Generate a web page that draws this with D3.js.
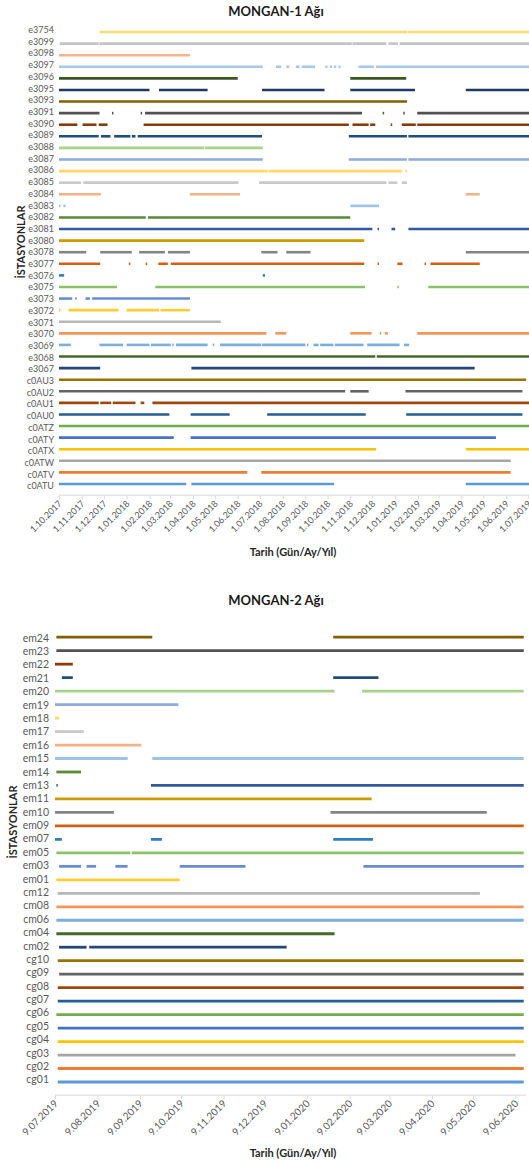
<!DOCTYPE html>
<html>
<head>
<meta charset="utf-8">
<script src="https://cdn.jsdelivr.net/npm/d3@7"></script>
<style>
  html, body { margin: 0; padding: 0; background: #fff; }
  svg { display: block; font-family: Lato, "Open Sans", sans-serif; }
</style>
</head>
<body>
<svg id="chart" width="529" height="1163"></svg>
<script>
// ---------- MONGAN-1 network: stations (top to bottom) and observation periods ----------
const mongan1Stations = ["e3754","e3099","e3098","e3097","e3096","e3095","e3093","e3091","e3090","e3089",
  "e3088","e3087","e3086","e3085","e3084","e3083","e3082","e3081","e3080","e3078",
  "e3077","e3076","e3075","e3073","e3072","e3071","e3070","e3069","e3068","e3067",
  "c0AU3","c0AU2","c0AU1","c0AU0","c0ATZ","c0ATY","c0ATX","c0ATW","c0ATV","c0ATU"];

const mongan1Periods = [
  [["2017-11-25","2019-01-17"],["2019-01-18","2019-07-02"]],
  [["2017-10-02","2017-11-24"],["2017-11-25","2018-11-03"],["2018-11-04","2018-12-20"],["2018-12-23","2019-01-05"],["2019-01-07","2019-07-02"]],
  [["2017-10-01","2018-03-28"]],
  [["2017-10-01","2018-07-05"],["2018-07-23","2018-07-30"],["2018-08-06","2018-08-10"],["2018-08-19","2018-08-24"],["2018-08-27","2018-09-14"],["2018-09-28","2018-10-01"],["2018-10-04","2018-10-07"],["2018-10-10","2018-10-13"],["2018-10-16","2018-10-19"],["2018-11-12","2018-12-03"],["2018-12-06","2019-07-02"]],
  [["2017-10-01","2018-06-01"],["2018-11-01","2019-01-16"]],
  [["2017-10-01","2018-02-01"],["2018-02-14","2018-04-21"],["2018-07-04","2018-09-27"],["2018-11-01","2019-01-28"],["2019-04-07","2019-07-02"]],
  [["2017-10-01","2019-01-17"]],
  [["2017-10-01","2017-11-25"],["2017-12-12","2017-12-14"],["2018-01-20","2018-01-22"],["2018-01-26","2018-11-17"],["2018-12-15","2018-12-17"],["2019-01-12","2019-01-14"],["2019-01-31","2019-07-02"]],
  [["2017-10-01","2017-10-26"],["2017-11-02","2017-11-21"],["2017-11-24","2017-12-06"],["2018-01-24","2018-10-30"],["2018-11-04","2018-11-26"],["2018-11-28","2018-12-05"],["2018-12-26","2018-12-28"],["2019-01-10","2019-01-29"],["2019-01-31","2019-07-02"]],
  [["2017-10-01","2017-11-24"],["2017-11-27","2017-12-10"],["2017-12-15","2018-01-06"],["2018-01-08","2018-01-13"],["2018-01-16","2018-07-04"],["2018-10-30","2019-01-17"],["2019-01-19","2019-07-02"]],
  [["2017-10-01","2018-04-16"],["2018-04-17","2018-07-05"]],
  [["2017-10-01","2018-07-05"],["2018-10-30","2019-01-17"],["2019-01-19","2019-07-02"]],
  [["2017-10-01","2018-07-12"],["2018-07-13","2019-01-10"],["2019-01-15","2019-01-17"]],
  [["2017-10-01","2017-10-31"],["2017-11-03","2018-06-02"],["2018-06-30","2018-12-20"],["2018-12-23","2019-01-04"],["2019-01-10","2019-01-17"]],
  [["2017-10-01","2017-11-27"],["2018-03-28","2018-06-04"],["2019-04-07","2019-04-26"]],
  [["2017-10-01","2017-10-03"],["2017-10-07","2017-10-10"],["2018-11-01","2018-12-10"]],
  [["2017-10-01","2018-01-27"],["2018-01-30","2018-11-01"]],
  [["2017-10-01","2018-12-01"],["2018-12-08","2018-12-10"],["2018-12-27","2019-01-01"],["2019-01-19","2019-07-02"]],
  [["2017-10-01","2018-11-20"]],
  [["2017-10-01","2017-11-07"],["2017-11-26","2018-01-08"],["2018-01-18","2018-02-22"],["2018-02-26","2018-03-28"],["2018-07-03","2018-07-25"],["2018-08-06","2018-09-08"],["2019-04-07","2019-07-02"]],
  [["2017-10-01","2017-11-26"],["2018-01-04","2018-01-06"],["2018-01-27","2018-01-29"],["2018-02-13","2018-02-26"],["2018-03-02","2018-11-20"],["2018-12-08","2018-12-10"],["2019-01-04","2019-01-11"],["2019-02-10","2019-02-12"],["2019-02-18","2019-04-26"]],
  [["2017-10-01","2017-10-08"],["2018-07-05","2018-07-08"]],
  [["2017-10-01","2017-12-19"],["2018-02-09","2018-11-21"],["2019-01-04","2019-01-06"],["2019-02-15","2019-07-02"]],
  [["2017-10-01","2017-10-19"],["2017-10-23","2017-10-25"],["2017-11-06","2017-11-12"],["2017-11-15","2018-03-28"]],
  [["2017-10-01","2017-10-03"],["2017-10-14","2017-12-21"],["2018-01-01","2018-02-14"],["2018-02-16","2018-03-28"]],
  [["2017-10-01","2018-05-09"]],
  [["2017-10-01","2018-07-10"],["2018-07-22","2018-08-06"],["2018-11-01","2018-11-30"],["2018-12-11","2018-12-13"],["2018-12-18","2018-12-22"],["2019-01-31","2019-07-02"]],
  [["2017-10-01","2017-10-17"],["2017-11-25","2017-12-27"],["2018-01-01","2018-02-01"],["2018-02-03","2018-03-02"],["2018-03-04","2018-03-06"],["2018-03-09","2018-04-21"],["2018-04-28","2018-04-30"],["2018-05-08","2018-07-03"],["2018-07-04","2018-09-01"],["2018-09-03","2018-09-05"],["2018-09-12","2018-09-19"],["2018-09-21","2018-10-09"],["2018-10-11","2018-11-19"],["2018-11-24","2019-01-07"],["2019-01-13","2019-01-20"]],
  [["2017-10-01","2018-12-05"],["2018-12-07","2019-07-02"]],
  [["2017-10-01","2017-11-26"],["2018-03-30","2019-04-19"]],
  [["2017-10-01","2019-06-28"]],
  [["2017-10-01","2018-10-25"],["2018-11-01","2018-11-26"],["2019-01-15","2019-06-23"]],
  [["2017-10-01","2017-11-24"],["2017-11-26","2017-12-11"],["2017-12-13","2018-01-13"],["2018-01-20","2018-01-25"],["2018-02-05","2019-07-02"]],
  [["2017-10-01","2018-02-28"],["2018-03-29","2018-05-21"],["2018-07-11","2018-11-22"],["2019-01-16","2019-06-23"]],
  [["2017-10-01","2019-07-02"]],
  [["2017-10-01","2018-03-06"],["2018-03-29","2019-05-18"]],
  [["2017-10-01","2018-12-06"],["2019-04-07","2019-07-02"]],
  [["2017-10-01","2019-06-07"]],
  [["2017-10-01","2018-06-14"],["2018-07-03","2019-06-07"]],
  [["2017-10-01","2018-03-23"],["2018-03-30","2018-10-10"],["2019-04-07","2019-07-02"]]
];

const mongan1Ticks = ["2017-10-01","2017-11-01","2017-12-01","2018-01-01","2018-02-01","2018-03-01","2018-04-01",
  "2018-05-01","2018-06-01","2018-07-01","2018-08-01","2018-09-01","2018-10-01","2018-11-01","2018-12-01",
  "2019-01-01","2019-02-01","2019-03-01","2019-04-01","2019-05-01","2019-06-01","2019-07-01"];

// ---------- MONGAN-2 network ----------
const mongan2Stations = ["em24","em23","em22","em21","em20","em19","em18","em17","em16","em15","em14","em13",
  "em11","em10","em09","em07","em05","em03","em01","cm12","cm08","cm06","cm04","cm02",
  "cg10","cg09","cg08","cg07","cg06","cg05","cg04","cg03","cg02","cg01"];

const mongan2Periods = [
  [["2019-07-10","2019-09-18"],["2020-01-28","2020-06-15"]],
  [["2019-07-10","2020-06-15"]],
  [["2019-07-09","2019-07-22"]],
  [["2019-07-14","2019-07-22"],["2020-01-28","2020-03-01"]],
  [["2019-07-09","2020-01-29"],["2020-02-18","2020-06-15"]],
  [["2019-07-09","2019-10-07"]],
  [["2019-07-09","2019-07-12"]],
  [["2019-07-09","2019-07-30"]],
  [["2019-07-09","2019-09-10"]],
  [["2019-07-09","2019-08-31"],["2019-09-18","2020-06-15"]],
  [["2019-07-10","2019-07-28"]],
  [["2019-07-10","2019-07-11"],["2019-09-17","2020-06-15"]],
  [["2019-07-09","2020-02-25"]],
  [["2019-07-09","2019-08-21"],["2020-01-26","2020-05-19"]],
  [["2019-07-09","2020-06-15"]],
  [["2019-07-09","2019-07-14"],["2019-09-17","2019-09-25"],["2020-01-28","2020-02-26"]],
  [["2019-07-10","2019-09-02"],["2019-09-03","2020-06-15"]],
  [["2019-07-12","2019-07-28"],["2019-08-01","2019-08-08"],["2019-08-22","2019-08-31"],["2019-10-08","2019-11-25"],["2020-02-19","2020-06-15"]],
  [["2019-07-10","2019-10-08"]],
  [["2019-07-11","2020-05-14"]],
  [["2019-07-10","2020-06-15"]],
  [["2019-07-10","2020-06-15"]],
  [["2019-07-10","2020-01-29"]],
  [["2019-07-12","2019-08-01"],["2019-08-03","2019-12-25"]],
  [["2019-07-11","2020-06-15"]],
  [["2019-07-12","2020-06-15"]],
  [["2019-07-11","2020-06-15"]],
  [["2019-07-11","2020-06-15"]],
  [["2019-07-10","2020-06-15"]],
  [["2019-07-11","2020-06-15"]],
  [["2019-07-11","2020-06-15"]],
  [["2019-07-11","2020-06-09"]],
  [["2019-07-11","2020-06-15"]],
  [["2019-07-11","2020-06-15"]]
];

const mongan2Ticks = ["2019-07-09","2019-08-09","2019-09-09","2019-10-09","2019-11-09","2019-12-09",
  "2020-01-09","2020-02-09","2020-03-09","2020-04-09","2020-05-09","2020-06-09"];

// Series colours, assigned from the bottom station upwards
const palette = ["#5B9BD5","#ED7D31","#A5A5A5","#FFC000","#4472C4","#70AD47",
  "#255E91","#9E480E","#636363","#997300","#264478","#43682B",
  "#7CAFDD","#F1975A","#B7B7B7","#FFCD33","#698ED0","#8CC168",
  "#327DC2","#D26012","#848484","#CC9A00","#335AA1","#5A8A39",
  "#9DC3E6","#F4B183","#C9C9C9","#FFD966","#8FAADC","#A9D18E",
  "#1F4E79","#843C0C","#525252","#7F6000","#203864","#385723",
  "#A6C8EA","#F6B48E","#C4C4C4","#FFDA70"];

const parseDate = d3.utcParse("%Y-%m-%d");
const fmtTick = d => `${d.getUTCDate()}.${String(d.getUTCMonth() + 1).padStart(2, "0")}.${d.getUTCFullYear()}`;

const svg = d3.select("#chart");

function drawPanel(p) {
  const g = svg.append("g");
  const ticks = p.ticks.map(parseDate);

  const x = d3.scaleUtc()
    .domain([ticks[0], ticks[ticks.length - 1]])
    .range([p.x0, p.x1]);

  // station rows for the marks, and a slightly different spacing for the labels
  const yLine = d3.scalePoint().domain(p.stations).range([p.lineTop, p.lineBottom]);
  const yLabel = d3.scalePoint().domain(p.stations).range([p.labelTop, p.labelBottom]);

  g.append("text")
    .attr("x", p.titleX).attr("y", p.titleY)
    .attr("text-anchor", "middle")
    .attr("font-size", p.titleSize).attr("font-weight", 700).attr("fill", "#1a1a1a")
    .text(p.title);

  // x axis
  const axis = d3.axisBottom(x)
    .tickValues(ticks)
    .tickFormat(fmtTick)
    .tickSizeInner(p.tickLen).tickSizeOuter(0).tickPadding(0);
  const ax = g.append("g").attr("transform", `translate(0,${p.axisY})`).call(axis);
  ax.select(".domain").attr("stroke", "#d9d9d9").attr("d", `M${p.x0},0H${p.axisEnd}`);
  ax.selectAll(".tick line").attr("stroke", "#d9d9d9");
  ax.selectAll(".tick text")
    .attr("font-family", "Lato, sans-serif")
    .attr("font-size", p.tickFont).attr("fill", "#595959")
    .attr("text-anchor", "end")
    .attr("dy", null)
    .attr("transform", `translate(${p.tickDx},${p.tickDy}) rotate(-45)`)
    .attr("y", 0);

  // station labels
  const yl = d3.axisLeft(yLabel).tickSize(0).tickPadding(0);
  const ay = g.append("g").attr("transform", `translate(${p.labelX},0)`).call(yl);
  ay.select(".domain").remove();
  ay.selectAll(".tick text")
    .attr("font-family", "Lato, sans-serif")
    .attr("font-size", p.labelFont).attr("fill", "#595959");

  // observation periods
  const n = p.stations.length;
  const segs = [];
  p.stations.forEach((s, i) => {
    p.periods[i].forEach(([a, b]) => segs.push({ s, a: parseDate(a), b: parseDate(b), c: palette[(n - 1 - i) % palette.length] }));
  });
  g.append("g").selectAll("line").data(segs).join("line")
    .attr("x1", d => x(d.a)).attr("x2", d => x(d.b))
    .attr("y1", d => yLine(d.s)).attr("y2", d => yLine(d.s))
    .attr("stroke", d => d.c)
    .attr("stroke-width", p.lineWidth)
    .attr("stroke-linecap", "butt");

  // axis titles
  g.append("text")
    .attr("x", p.xTitleX).attr("y", p.xTitleY)
    .attr("text-anchor", "middle").attr("dominant-baseline", "central")
    .attr("font-size", p.axisTitleSize).attr("font-weight", 700).attr("fill", "#262626")
    .text("Tarih (Gün/Ay/Yıl)");
  g.append("text")
    .attr("transform", `translate(${p.yTitleX},${p.yTitleY}) rotate(-90)`)
    .attr("text-anchor", "middle").attr("dominant-baseline", "central")
    .attr("font-size", p.axisTitleSize).attr("font-weight", 700).attr("fill", "#262626")
    .text("İSTASYONLAR");
}

drawPanel({
  title: "MONGAN-1 Ağı", titleX: 276, titleY: 15.5, titleSize: 13,
  stations: mongan1Stations, periods: mongan1Periods, ticks: mongan1Ticks,
  x0: 59, x1: 528.3, axisEnd: 529, axisY: 495.2, tickLen: 4,
  tickFont: 9, tickDx: 3, tickDy: 9,
  lineTop: 32, lineBottom: 484, labelTop: 29.6, labelBottom: 486, labelX: 54, labelFont: 9,
  lineWidth: 2.6,
  xTitleX: 293, xTitleY: 551, yTitleX: 20, yTitleY: 242, axisTitleSize: 11
});

drawPanel({
  title: "MONGAN-2 Ağı", titleX: 276, titleY: 604.5, titleSize: 13,
  stations: mongan2Stations, periods: mongan2Periods, ticks: mongan2Ticks,
  x0: 55, x1: 515.5, axisEnd: 526, axisY: 1095.2, tickLen: 4,
  tickFont: 10, tickDx: 3, tickDy: 9,
  lineTop: 637.2, lineBottom: 1082, labelTop: 637.8, labelBottom: 1079.5, labelX: 49, labelFont: 10.5,
  lineWidth: 2.8,
  xTitleX: 293, xTitleY: 1152, yTitleX: 12.5, yTitleY: 822, axisTitleSize: 11
});
</script>
</body>
</html>
